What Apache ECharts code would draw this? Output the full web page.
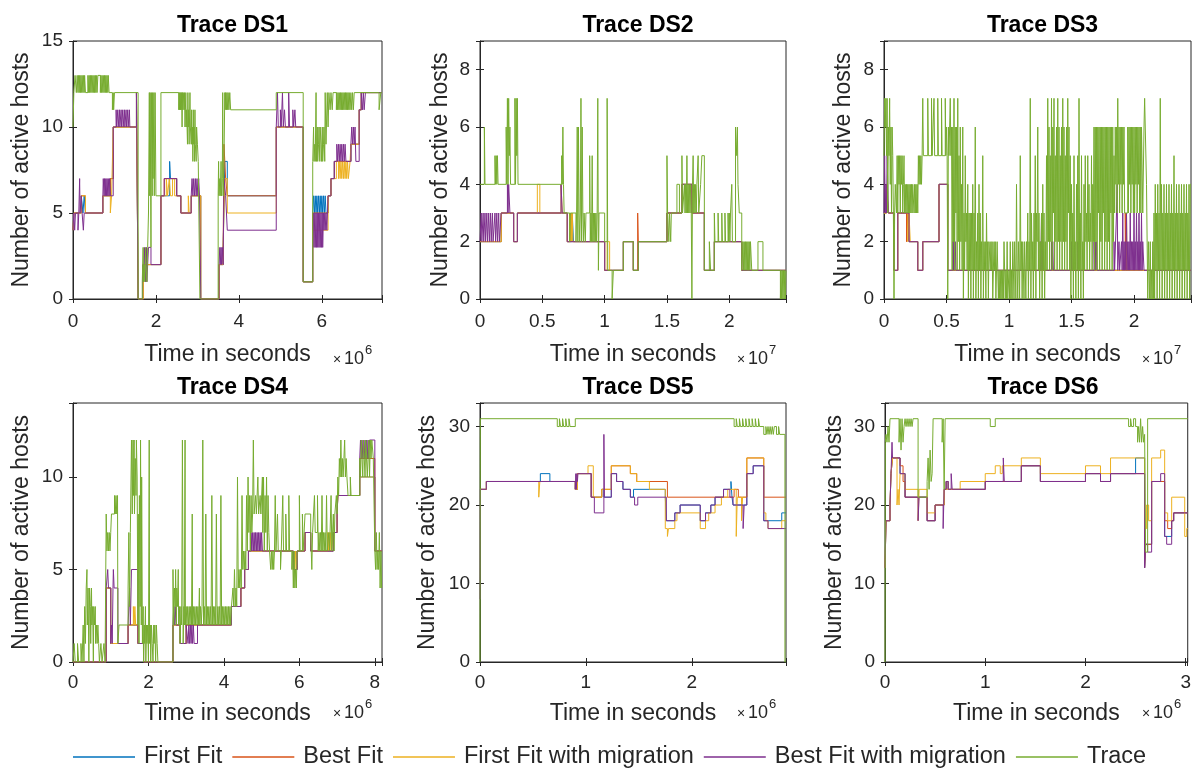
<!DOCTYPE html>
<html>
<head>
<meta charset="utf-8">
<title>Active hosts per trace</title>
<script src="https://cdn.jsdelivr.net/npm/echarts@6/dist/echarts.min.js"></script>
<style>
  html, body { margin: 0; padding: 0; background: #fff; }
  #chart { width: 1194px; height: 768px; }
</style>
</head>
<body>
<div id="chart"></div>
<script>
// legend / series
const seriesNames = ['First Fit', 'Best Fit', 'First Fit with migration', 'Best Fit with migration', 'Trace'];
const seriesColors = ['#0072BD', '#D95319', '#EDB120', '#7E2F8E', '#77AC30'];

// panels
const panelTitles = ['Trace DS1', 'Trace DS2', 'Trace DS3', 'Trace DS4', 'Trace DS5', 'Trace DS6'];
const xMaxes = [7.45, 2.455, 2.456, 8.19, 2.89, 3.02];
const xIntervals = [2, 0.5, 0.5, 2, 1, 1];
const xExponents = ['6', '7', '7', '6', '6', '6'];
const yMaxes = [15, 9, 9, 14, 33, 33];
const yIntervals = [5, 2, 2, 5, 10, 10];

// ---- DS1 (x in 1e6 s)
const ds1FirstFit = [[0,4],[0.02,5],[0.2,6],[0.24,5],[0.27,6],[0.3,5],[0.72,6],[0.9,7],[0.97,10],[1.53,12],[1.57,0],[1.7,2],[1.88,2],[2.12,6],[2.33,8],[2.35,7],[2.5,6],[2.6,5],[2.85,6],[3.08,0],[3.52,2],[3.62,3],[3.66,8],[3.72,6],[4.9,10],[5.55,1],[5.78,5],[5.8,6],[5.82,5],[5.84,6],[5.86,5],[5.88,6],[5.9,5],[5.92,6],[5.94,5],[5.96,6],[5.98,5],[6.0,6],[6.02,5],[6.04,6],[6.06,5],[6.08,6],[6.1,5],[6.15,6],[6.22,7],[6.3,8],[6.7,9],[6.9,11],[6.95,12],[7.45,12]];
const ds1BestFit = [[0,4],[0.02,5],[0.2,6],[0.3,5],[0.72,6],[0.9,7],[0.97,10],[1.53,12],[1.57,0],[1.7,2],[1.88,2],[2.12,6],[2.2,7],[2.5,6],[2.6,5],[2.85,6],[3.08,0],[3.52,2],[3.62,3],[3.64,9],[3.68,7],[3.72,6],[4.9,10],[5.55,1],[5.78,5],[6.15,6],[6.22,7],[6.3,8],[6.7,9],[6.9,11],[6.95,12],[7.45,12]];
const ds1FirstFitMig = [[0,4],[0.02,5],[0.2,6],[0.3,5],[0.72,6],[0.9,5],[0.93,6],[0.97,10],[1.53,12],[1.57,0],[1.7,2],[1.88,2],[2.12,6],[2.25,7],[2.28,6],[2.32,7],[2.35,6],[2.4,7],[2.45,6],[2.6,5],[2.78,6],[2.8,5],[2.85,6],[3.08,0],[3.52,2],[3.62,3],[3.66,7],[3.72,5],[4.9,10],[5.55,1],[5.78,4],[6.15,6],[6.22,7],[6.35,8],[6.4,7],[6.42,8],[6.44,7],[6.46,8],[6.48,7],[6.5,8],[6.52,7],[6.54,8],[6.56,7],[6.58,8],[6.6,7],[6.62,8],[6.64,7],[6.68,8],[6.7,9],[6.9,11],[6.95,12],[7.45,12]];
const ds1BestFitMig = [[0,4],[0.02,5],[0.04,4],[0.06,5],[0.1,5],[0.12,4],[0.14,5],[0.16,7],[0.17,5],[0.2,6],[0.22,5],[0.25,4],[0.27,5],[0.72,6],[0.73,7],[0.75,6],[0.76,7],[0.78,6],[0.79,7],[0.81,6],[0.82,7],[0.84,6],[0.85,7],[0.87,6],[0.88,7],[0.9,6],[0.97,10],[1.04,11],[1.05,10],[1.08,11],[1.09,10],[1.12,11],[1.13,10],[1.16,11],[1.17,10],[1.2,11],[1.21,10],[1.24,11],[1.25,10],[1.28,11],[1.29,10],[1.32,11],[1.33,10],[1.36,11],[1.37,10],[1.53,12],[1.57,0],[1.68,2],[1.7,1],[1.72,3],[1.73,2],[1.75,1],[1.77,3],[1.78,1],[1.8,2],[1.82,3],[1.88,2],[2.12,6],[2.2,7],[2.5,6],[2.6,5],[2.85,6],[2.87,7],[2.89,6],[2.91,7],[2.93,6],[2.95,7],[2.97,6],[2.99,7],[3.01,6],[3.03,7],[3.05,6],[3.08,0],[3.52,2],[3.54,3],[3.55,2],[3.57,3],[3.58,2],[3.6,3],[3.62,2],[3.64,7],[3.68,6],[3.72,4],[4.9,10],[4.93,12],[4.95,10],[5.0,11],[5.02,10],[5.05,12],[5.07,10],[5.1,11],[5.12,10],[5.2,12],[5.22,10],[5.3,11],[5.32,10],[5.35,11],[5.37,10],[5.55,1],[5.78,3],[5.8,5],[5.81,3],[5.83,5],[5.84,3],[5.86,5],[5.87,3],[5.89,5],[5.9,3],[5.92,5],[5.93,3],[5.95,5],[5.96,3],[5.98,5],[5.99,3],[6.01,5],[6.02,3],[6.04,5],[6.05,4],[6.07,5],[6.08,4],[6.1,5],[6.12,4],[6.15,6],[6.22,7],[6.3,8],[6.36,9],[6.38,8],[6.4,9],[6.42,8],[6.44,9],[6.46,8],[6.48,9],[6.5,8],[6.52,9],[6.54,8],[6.56,9],[6.58,8],[6.7,9],[6.72,10],[6.74,9],[6.76,10],[6.78,9],[6.8,10],[6.82,8],[6.9,11],[6.95,12],[6.98,11],[7.0,12],[7.02,11],[7.05,12],[7.45,12]];
const ds1Trace = [[0,10],[0.02,12],[0.05,13],[0.08,12],[0.1,13],[0.12,12],[0.13,13],[0.15,12],[0.16,13],[0.18,12],[0.19,13],[0.21,12],[0.22,13],[0.24,12],[0.25,13],[0.27,12],[0.28,13],[0.3,12],[0.36,13],[0.37,12],[0.39,13],[0.4,12],[0.42,13],[0.43,12],[0.45,13],[0.46,12],[0.48,13],[0.49,12],[0.51,13],[0.52,12],[0.54,13],[0.55,12],[0.57,13],[0.58,12],[0.6,13],[0.66,12],[0.67,13],[0.69,12],[0.7,13],[0.72,12],[0.73,13],[0.75,12],[0.76,13],[0.78,12],[0.79,13],[0.81,12],[0.82,13],[0.84,12],[0.85,13],[0.87,12],[0.95,11],[0.97,12],[0.98,11],[1.0,12],[1.57,0],[1.67,1],[1.69,3],[1.7,1],[1.72,2],[1.73,1],[1.75,3],[1.76,2],[1.78,1],[1.8,3],[1.82,5],[1.84,12],[1.85,6],[1.86,12],[1.88,3],[1.89,12],[1.91,6],[1.92,12],[1.93,7],[1.95,12],[1.96,6],[1.98,12],[2.0,6],[2.12,12],[2.55,11],[2.56,12],[2.57,11],[2.58,12],[2.59,11],[2.6,12],[2.61,11],[2.62,12],[2.63,10],[2.64,12],[2.65,11],[2.66,12],[2.68,11],[2.69,12],[2.7,10],[2.71,11],[2.72,12],[2.73,10],[2.74,11],[2.76,9],[2.77,12],[2.78,10],[2.79,11],[2.8,9],[2.82,12],[2.83,10],[2.85,9],[2.86,11],[2.87,9],[2.88,10],[2.89,8],[2.9,11],[2.91,9],[2.92,10],[2.93,8],[2.94,11],[2.95,9],[2.97,8],[2.98,10],[3.0,9],[3.02,8],[3.06,0],[3.5,6],[3.51,8],[3.52,6],[3.54,7],[3.55,6],[3.57,8],[3.58,6],[3.6,7],[3.61,12],[3.62,6],[3.64,8],[3.66,12],[3.67,11],[3.68,12],[3.7,11],[3.71,12],[3.73,11],[3.74,12],[3.76,11],[3.78,12],[3.8,11],[4.9,12],[5.55,1],[5.78,8],[5.8,10],[5.81,8],[5.83,9],[5.84,8],[5.86,12],[5.87,8],[5.89,10],[5.9,8],[5.92,9],[5.93,10],[5.95,8],[5.96,10],[5.98,9],[5.99,8],[6.01,10],[6.02,8],[6.04,9],[6.05,10],[6.07,8],[6.08,12],[6.1,9],[6.11,10],[6.13,12],[6.15,10],[6.17,12],[6.2,11],[6.22,12],[6.25,11],[6.27,12],[6.35,11],[6.36,12],[6.38,11],[6.39,12],[6.41,11],[6.42,12],[6.44,11],[6.45,12],[6.47,11],[6.48,12],[6.5,11],[6.51,12],[6.53,11],[6.54,12],[6.56,11],[6.57,12],[6.59,11],[6.6,12],[6.62,11],[6.63,12],[6.65,11],[6.66,12],[6.68,11],[6.7,12],[6.72,11],[6.74,12],[6.76,11],[6.78,12],[7.38,11],[7.42,12],[7.45,12]];

// ---- DS2 (x in 1e7 s)
const ds2FirstFit = [[0,2],[0.17,3],[0.27,2],[0.3,3],[0.7,2],[0.74,3],[0.75,2],[1.0,1],[1.15,2],[1.23,1],[1.27,2],[1.5,3],[1.62,4],[1.7,3],[1.8,1],[1.88,2],[2.1,1],[2.455,1]];
const ds2BestFit = [[0,2],[0.17,3],[0.27,2],[0.3,3],[0.7,2],[0.73,3],[0.735,2],[1.0,1],[1.15,2],[1.23,1],[1.265,3],[1.27,2],[1.5,3],[1.62,4],[1.7,3],[1.8,1],[1.88,2],[2.1,1],[2.455,1]];
const ds2FirstFitMig = [[0,2],[0.17,3],[0.27,2],[0.3,3],[0.46,4],[0.48,3],[0.65,4],[0.66,3],[0.7,2],[0.72,3],[0.725,2],[0.73,3],[0.735,2],[0.74,3],[0.745,2],[1.0,1],[1.02,2],[1.04,1],[1.15,2],[1.23,1],[1.27,2],[1.5,3],[1.62,4],[1.7,3],[1.8,1],[1.88,2],[2.1,1],[2.455,1]];
const ds2BestFitMig = [[0,2],[0.01,3],[0.015,2],[0.025,3],[0.03,2],[0.04,3],[0.045,2],[0.055,3],[0.06,2],[0.07,3],[0.075,2],[0.085,3],[0.09,2],[0.1,3],[0.105,2],[0.12,3],[0.125,2],[0.135,3],[0.14,2],[0.15,3],[0.155,2],[0.17,3],[0.22,4],[0.225,3],[0.23,4],[0.24,3],[0.27,2],[0.3,3],[0.65,4],[0.66,3],[0.7,2],[1.0,1],[1.15,2],[1.23,1],[1.27,2],[1.5,3],[1.62,4],[1.7,3],[1.8,1],[1.88,2],[2.1,1],[2.455,1]];
const ds2Trace = [[0,4],[0.035,6],[0.04,4],[0.12,5],[0.125,4],[0.13,5],[0.135,4],[0.14,5],[0.145,4],[0.21,6],[0.215,4],[0.22,7],[0.225,4],[0.23,7],[0.235,5],[0.24,6],[0.245,4],[0.28,7],[0.285,4],[0.29,7],[0.295,5],[0.3,7],[0.305,4],[0.655,5],[0.66,4],[0.665,6],[0.67,4],[0.675,3],[0.72,2],[0.725,3],[0.77,2],[0.775,3],[0.78,6],[0.785,2],[0.79,6],[0.795,3],[0.8,2],[0.805,3],[0.81,7],[0.815,2],[0.82,6],[0.825,3],[0.83,2],[0.835,3],[0.845,2],[0.85,3],[0.88,5],[0.885,2],[0.89,3],[0.895,2],[0.9,5],[0.905,2],[0.91,3],[0.915,2],[0.92,3],[0.925,2],[0.93,3],[0.935,2],[0.94,3],[0.945,7],[0.95,1],[0.955,3],[1.0,2],[1.02,7],[1.025,1],[1.06,0],[1.07,1],[1.15,2],[1.23,1],[1.27,2],[1.5,5],[1.505,3],[1.515,2],[1.52,3],[1.53,2],[1.535,3],[1.58,4],[1.6,3],[1.62,5],[1.625,3],[1.64,4],[1.645,3],[1.65,4],[1.655,3],[1.66,5],[1.665,3],[1.67,4],[1.675,3],[1.68,4],[1.685,3],[1.69,4],[1.695,3],[1.7,0],[1.705,4],[1.71,5],[1.715,3],[1.72,4],[1.725,3],[1.73,4],[1.735,3],[1.74,4],[1.75,5],[1.755,3],[1.77,4],[1.78,5],[1.8,1],[1.84,2],[1.85,1],[1.88,3],[1.885,2],[1.91,3],[1.915,2],[1.94,3],[1.945,2],[1.965,3],[1.97,2],[1.99,3],[1.995,2],[2.0,3],[2.005,2],[2.01,3],[2.02,4],[2.025,2],[2.05,6],[2.06,5],[2.065,6],[2.07,4],[2.08,3],[2.1,1],[2.11,2],[2.115,1],[2.12,2],[2.125,1],[2.13,2],[2.135,1],[2.14,2],[2.145,1],[2.15,2],[2.155,1],[2.16,2],[2.165,1],[2.17,2],[2.18,1],[2.23,2],[2.27,1],[2.41,0],[2.415,1],[2.42,0],[2.425,1],[2.43,0],[2.435,1],[2.44,0],[2.445,1],[2.45,0],[2.455,1]];

// ---- DS3 (x in 1e7 s)
const ds3FirstFit = [[0,3],[0.02,4],[0.035,3],[0.08,1],[0.11,3],[0.2,2],[0.27,1],[0.31,2],[0.44,4],[0.51,1],[2.456,1]];
const ds3BestFit = [[0,3],[0.02,4],[0.035,3],[0.08,1],[0.11,3],[0.18,2],[0.19,3],[0.2,2],[0.27,1],[0.31,2],[0.44,4],[0.51,1],[1.93,3],[1.935,1],[2.456,1]];
const ds3FirstFitMig = [[0,3],[0.02,4],[0.035,3],[0.08,1],[0.11,3],[0.19,2],[0.2,3],[0.21,2],[0.27,1],[0.31,2],[0.44,4],[0.51,1],[1.94,3],[1.945,1],[2.456,1]];
const ds3BestFitMig = [[0,3],[0.005,5],[0.01,3],[0.015,4],[0.02,3],[0.025,5],[0.03,4],[0.035,3],[0.08,1],[0.11,3],[0.2,2],[0.27,1],[0.31,2],[0.44,4],[0.51,1],[0.55,2],[0.555,1],[0.56,3],[0.565,1],[0.57,2],[0.575,1],[1.25,2],[1.255,1],[1.26,3],[1.265,1],[1.27,2],[1.275,1],[1.34,2],[1.345,1],[1.35,2],[1.355,1],[1.5,2],[1.505,1],[1.55,2],[1.555,1],[1.68,2],[1.685,1],[1.69,2],[1.695,1],[1.7,2],[1.705,1],[1.84,2],[1.845,1],[1.86,3],[1.865,4],[1.87,1],[1.88,2],[1.885,1],[1.9,2],[1.905,1],[1.91,3],[1.915,1],[1.92,2],[1.925,1],[1.93,2],[1.935,1],[1.94,3],[1.945,1],[1.95,2],[1.955,1],[1.96,2],[1.965,1],[1.97,3],[1.975,1],[1.98,2],[1.985,1],[1.99,2],[1.995,1],[2.0,3],[2.005,1],[2.01,2],[2.015,1],[2.02,3],[2.025,1],[2.03,2],[2.035,1],[2.04,3],[2.045,1],[2.05,2],[2.055,1],[2.06,3],[2.065,1],[2.07,2],[2.08,1],[2.456,1]];
const ds3Trace = [[0,5],[0.005,7],[0.01,6],[0.015,7],[0.02,5],[0.025,7],[0.03,3],[0.035,6],[0.04,5],[0.045,7],[0.05,4],[0.055,6],[0.06,3],[0.065,6],[0.07,5],[0.075,3],[0.08,0],[0.085,3],[0.09,4],[0.1,3],[0.105,5],[0.11,3],[0.115,5],[0.12,4],[0.125,5],[0.13,3],[0.135,5],[0.14,4],[0.145,5],[0.15,3],[0.155,4],[0.16,5],[0.165,3],[0.17,4],[0.175,3],[0.18,4],[0.185,3],[0.19,4],[0.195,3],[0.2,4],[0.205,3],[0.21,4],[0.215,3],[0.22,4],[0.225,3],[0.23,4],[0.24,3],[0.245,4],[0.25,3],[0.255,4],[0.26,3],[0.265,4],[0.27,3],[0.275,5],[0.28,4],[0.285,5],[0.29,4],[0.295,5],[0.3,4],[0.305,5],[0.31,7],[0.315,5],[0.35,7],[0.355,5],[0.38,7],[0.385,5],[0.4,7],[0.405,5],[0.43,7],[0.435,5],[0.46,7],[0.465,5],[0.49,7],[0.495,5],[0.5,6],[0.505,5],[0.51,0],[0.515,6],[0.52,5],[0.525,6],[0.53,7],[0.535,5],[0.54,6],[0.545,1],[0.55,6],[0.555,2],[0.56,7],[0.565,1],[0.57,6],[0.575,3],[0.58,6],[0.585,1],[0.59,7],[0.595,2],[0.6,5],[0.605,1],[0.61,6],[0.615,2],[0.62,4],[0.625,1],[0.63,6],[0.635,0],[0.64,3],[0.645,1],[0.65,5],[0.655,2],[0.66,3],[0.665,1],[0.67,4],[0.675,0],[0.68,3],[0.685,1],[0.69,3],[0.695,0],[0.7,3],[0.705,1],[0.71,4],[0.715,0],[0.72,3],[0.725,1],[0.73,6],[0.735,0],[0.74,2],[0.745,1],[0.75,3],[0.755,0],[0.76,4],[0.765,1],[0.77,3],[0.775,0],[0.78,2],[0.785,1],[0.79,5],[0.795,0],[0.8,2],[0.805,1],[0.81,2],[0.815,0],[0.82,3],[0.825,1],[0.83,2],[0.835,0],[0.84,2],[0.85,1],[0.855,2],[0.86,1],[0.865,2],[0.87,0],[0.875,1],[0.88,2],[0.885,1],[0.89,2],[0.895,0],[0.9,1],[0.905,2],[0.91,1],[0.915,0],[0.92,1],[0.925,0],[0.93,1],[0.935,0],[0.94,1],[0.945,0],[0.95,1],[0.955,0],[0.96,2],[0.965,1],[0.97,0],[0.975,1],[0.98,0],[0.985,2],[0.99,0],[1.0,1],[1.005,0],[1.01,2],[1.015,0],[1.02,1],[1.025,0],[1.03,2],[1.035,1],[1.04,0],[1.045,2],[1.05,1],[1.055,0],[1.06,4],[1.065,1],[1.07,0],[1.075,2],[1.08,1],[1.085,0],[1.09,5],[1.095,1],[1.1,2],[1.105,0],[1.11,2],[1.115,1],[1.12,0],[1.125,2],[1.13,1],[1.135,0],[1.14,2],[1.145,1],[1.15,3],[1.155,0],[1.16,2],[1.165,1],[1.17,7],[1.175,0],[1.18,3],[1.185,1],[1.19,2],[1.195,0],[1.2,3],[1.205,1],[1.21,5],[1.215,0],[1.22,3],[1.225,2],[1.23,6],[1.235,1],[1.24,3],[1.245,0],[1.25,2],[1.255,1],[1.26,3],[1.265,0],[1.27,4],[1.275,1],[1.28,3],[1.285,0],[1.29,2],[1.295,1],[1.3,5],[1.305,1],[1.31,7],[1.315,2],[1.32,6],[1.325,1],[1.33,5],[1.335,2],[1.34,7],[1.345,1],[1.35,6],[1.355,3],[1.36,7],[1.365,1],[1.37,5],[1.375,2],[1.38,6],[1.385,1],[1.39,7],[1.395,2],[1.4,6],[1.405,1],[1.41,5],[1.415,2],[1.42,6],[1.425,1],[1.43,7],[1.435,2],[1.44,6],[1.445,1],[1.45,5],[1.455,2],[1.46,6],[1.465,1],[1.47,7],[1.475,3],[1.48,6],[1.485,1],[1.49,5],[1.495,0],[1.5,4],[1.505,1],[1.51,3],[1.515,0],[1.52,5],[1.525,1],[1.53,2],[1.535,0],[1.54,4],[1.545,1],[1.55,5],[1.555,0],[1.56,7],[1.565,1],[1.57,3],[1.575,0],[1.58,5],[1.585,1],[1.59,2],[1.595,0],[1.6,4],[1.605,1],[1.61,5],[1.615,2],[1.62,3],[1.625,1],[1.63,5],[1.635,2],[1.64,4],[1.645,1],[1.65,3],[1.655,2],[1.66,5],[1.665,1],[1.67,4],[1.675,2],[1.68,6],[1.685,1],[1.69,6],[1.695,2],[1.7,6],[1.705,1],[1.71,6],[1.715,3],[1.72,6],[1.725,1],[1.73,6],[1.735,2],[1.74,6],[1.745,1],[1.75,6],[1.755,3],[1.76,6],[1.765,1],[1.77,6],[1.775,2],[1.78,6],[1.785,1],[1.79,6],[1.795,2],[1.8,6],[1.805,1],[1.81,6],[1.815,3],[1.82,6],[1.825,1],[1.83,6],[1.835,2],[1.84,5],[1.845,3],[1.85,6],[1.855,4],[1.86,6],[1.865,3],[1.87,7],[1.875,4],[1.88,6],[1.885,3],[1.89,6],[1.895,4],[1.9,6],[1.905,3],[1.91,6],[1.915,4],[1.92,6],[1.925,3],[1.95,6],[1.955,3],[1.96,6],[1.965,4],[1.97,6],[1.975,3],[1.98,6],[1.985,4],[1.99,6],[1.995,3],[2.0,6],[2.005,3],[2.01,6],[2.015,4],[2.02,6],[2.025,3],[2.03,6],[2.035,4],[2.04,6],[2.045,3],[2.05,6],[2.055,3],[2.06,6],[2.07,3],[2.08,6],[2.085,7],[2.09,6],[2.1,4],[2.11,0],[2.115,2],[2.12,1],[2.125,0],[2.13,2],[2.135,0],[2.14,1],[2.145,0],[2.15,2],[2.155,0],[2.16,3],[2.165,0],[2.17,4],[2.175,1],[2.18,3],[2.185,0],[2.19,4],[2.195,1],[2.2,3],[2.205,0],[2.21,7],[2.215,1],[2.22,4],[2.225,0],[2.23,3],[2.235,1],[2.24,4],[2.245,0],[2.25,3],[2.255,1],[2.26,4],[2.265,0],[2.27,3],[2.275,1],[2.28,4],[2.285,0],[2.29,3],[2.295,1],[2.3,4],[2.305,0],[2.31,3],[2.315,1],[2.32,5],[2.325,0],[2.33,3],[2.335,1],[2.34,4],[2.345,0],[2.35,3],[2.355,1],[2.36,4],[2.365,0],[2.37,3],[2.375,1],[2.38,4],[2.385,0],[2.39,3],[2.395,1],[2.4,4],[2.405,0],[2.41,3],[2.415,1],[2.42,4],[2.425,0],[2.43,3],[2.435,1],[2.44,4],[2.445,0],[2.45,4],[2.456,4]];

// ---- DS4 (x in 1e6 s)
const ds4FirstFit = [[0,0],[0.88,4],[1.0,1],[1.46,2],[1.72,1],[1.87,0],[2.65,2],[2.84,1],[3.0,2],[4.2,3],[4.45,4],[4.55,5],[4.65,6],[5.84,5],[5.94,6],[6.15,7],[6.3,6],[6.9,7],[7.0,8],[7.02,9],[7.6,10],[8.0,6],[8.19,6]];
const ds4BestFit = [[0,0],[0.88,4],[1.0,1],[1.46,2],[1.72,1],[1.87,0],[2.65,2],[2.84,1],[3.0,2],[4.2,3],[4.45,4],[4.55,5],[4.65,6],[5.84,5],[5.94,6],[6.15,7],[6.3,6],[6.9,7],[7.0,8],[7.02,9],[7.6,11],[8.0,6],[8.19,6]];
const ds4FirstFitMig = [[0,0],[0.88,4],[1.0,1],[1.46,2],[1.6,3],[1.62,2],[1.64,3],[1.66,2],[1.72,1],[1.87,0],[2.65,2],[2.84,1],[3.0,2],[4.2,3],[4.45,4],[4.55,5],[4.65,6],[5.84,5],[5.86,6],[5.88,5],[5.9,6],[5.92,5],[5.94,6],[6.15,7],[6.3,6],[6.75,7],[6.77,6],[6.79,7],[6.81,6],[6.83,7],[6.85,6],[6.9,7],[7.0,8],[7.02,9],[7.6,10],[8.0,6],[8.19,6]];
const ds4BestFitMig = [[0,0],[0.88,4],[0.92,5],[0.94,4],[1.0,1],[1.02,2],[1.04,1],[1.06,4],[1.07,5],[1.09,4],[1.19,1],[1.46,2],[1.5,4],[1.52,2],[1.55,5],[1.72,1],[1.87,0],[2.65,2],[2.67,3],[2.69,2],[2.71,3],[2.73,2],[2.84,1],[3.0,2],[3.05,1],[3.07,2],[3.09,1],[3.11,2],[3.13,1],[3.15,2],[3.17,1],[3.19,2],[3.21,1],[3.3,2],[4.2,3],[4.45,4],[4.55,5],[4.65,6],[4.72,7],[4.74,6],[4.76,7],[4.78,6],[4.8,7],[4.82,6],[4.84,7],[4.86,6],[4.88,7],[4.9,6],[4.92,7],[4.94,6],[4.96,7],[4.98,6],[5.0,7],[5.02,6],[5.84,5],[5.94,6],[6.15,7],[6.3,6],[6.9,7],[7.0,8],[7.02,9],[7.6,11],[7.62,12],[7.64,11],[7.66,12],[7.68,11],[7.7,12],[7.72,11],[7.74,12],[7.76,11],[7.78,12],[7.8,11],[7.82,12],[7.84,11],[7.86,12],[8.0,6],[8.19,6]];
const ds4Trace = [[0,0],[0.03,1],[0.06,0],[0.12,1],[0.15,0],[0.21,1],[0.24,0],[0.27,2],[0.29,0],[0.31,3],[0.33,1],[0.35,4],[0.37,5],[0.38,2],[0.4,4],[0.42,0],[0.44,4],[0.46,3],[0.47,1],[0.49,4],[0.5,2],[0.52,3],[0.54,0],[0.55,3],[0.57,2],[0.59,3],[0.6,1],[0.62,2],[0.64,1],[0.66,2],[0.68,1],[0.7,0],[0.74,1],[0.77,0],[0.82,1],[0.85,0],[0.88,8],[0.9,6],[0.92,7],[0.94,6],[0.96,7],[0.98,6],[1.0,7],[1.02,8],[1.1,9],[1.12,8],[1.14,9],[1.16,8],[1.18,9],[1.19,1],[1.22,2],[1.46,4],[1.48,7],[1.5,3],[1.52,7],[1.55,12],[1.57,8],[1.59,12],[1.6,9],[1.62,12],[1.63,8],[1.65,11],[1.67,9],[1.68,12],[1.7,10],[1.72,2],[1.73,8],[1.75,1],[1.76,9],[1.78,3],[1.79,12],[1.81,2],[1.82,10],[1.84,1],[1.86,3],[1.87,0],[1.89,2],[1.9,1],[1.92,3],[1.93,0],[1.95,2],[1.96,1],[1.98,2],[2.0,0],[2.02,12],[2.03,1],[2.05,2],[2.06,0],[2.08,2],[2.1,1],[2.12,0],[2.14,2],[2.15,1],[2.17,2],[2.19,0],[2.21,2],[2.23,1],[2.25,0],[2.65,5],[2.67,2],[2.69,4],[2.71,3],[2.72,5],[2.74,2],[2.75,4],[2.77,3],[2.79,5],[2.8,2],[2.82,3],[2.84,1],[2.86,3],[2.88,2],[2.9,12],[2.92,1],[2.94,3],[2.95,2],[2.97,12],[2.98,2],[3.0,3],[3.02,2],[3.04,3],[3.06,2],[3.08,3],[3.1,2],[3.12,3],[3.14,2],[3.16,8],[3.17,2],[3.19,3],[3.21,2],[3.23,3],[3.25,2],[3.27,3],[3.29,2],[3.31,3],[3.33,2],[3.35,4],[3.36,2],[3.38,3],[3.4,2],[3.42,3],[3.44,12],[3.46,2],[3.48,3],[3.5,2],[3.52,8],[3.54,2],[3.56,3],[3.58,2],[3.6,3],[3.62,2],[3.64,3],[3.66,2],[3.68,9],[3.7,2],[3.72,3],[3.74,2],[3.76,3],[3.78,2],[3.8,8],[3.82,2],[3.84,3],[3.86,2],[3.88,3],[3.9,2],[3.92,9],[3.94,2],[3.96,3],[3.98,2],[4.0,3],[4.02,2],[4.04,3],[4.06,2],[4.08,3],[4.1,2],[4.12,3],[4.14,2],[4.16,3],[4.18,2],[4.2,3],[4.24,4],[4.26,3],[4.28,5],[4.3,3],[4.32,4],[4.34,3],[4.36,10],[4.38,4],[4.4,5],[4.42,4],[4.44,5],[4.46,4],[4.48,9],[4.5,5],[4.52,6],[4.54,5],[4.56,6],[4.58,5],[4.6,9],[4.62,6],[4.64,10],[4.66,7],[4.68,9],[4.7,6],[4.72,9],[4.74,7],[4.76,8],[4.78,12],[4.8,8],[4.84,9],[4.86,8],[4.9,10],[4.92,8],[4.96,9],[4.98,8],[5.02,10],[5.03,7],[5.05,10],[5.07,6],[5.09,9],[5.11,7],[5.13,10],[5.15,6],[5.17,9],[5.19,7],[5.21,6],[5.24,5],[5.26,6],[5.28,5],[5.3,6],[5.32,5],[5.34,6],[5.36,9],[5.38,6],[5.42,8],[5.44,6],[5.5,5],[5.52,6],[5.56,9],[5.58,6],[5.64,8],[5.66,6],[5.72,9],[5.74,6],[5.8,5],[5.82,6],[5.84,4],[5.86,6],[5.88,4],[5.9,5],[5.92,4],[5.94,6],[6.0,9],[6.02,6],[6.08,8],[6.1,6],[6.15,8],[6.3,7],[6.33,5],[6.35,7],[6.4,9],[6.42,7],[6.48,9],[6.5,6],[6.52,7],[6.54,6],[6.56,7],[6.58,6],[6.6,9],[6.62,6],[6.64,7],[6.66,6],[6.68,7],[6.7,6],[6.72,9],[6.74,6],[6.78,7],[6.8,6],[6.84,9],[6.86,6],[6.9,8],[6.92,6],[6.94,8],[6.98,9],[7.0,8],[7.02,10],[7.04,9],[7.06,11],[7.08,10],[7.1,12],[7.12,10],[7.14,11],[7.16,10],[7.18,11],[7.2,12],[7.22,10],[7.24,11],[7.26,10],[7.29,9],[7.35,10],[7.37,9],[7.6,11],[7.62,10],[7.64,12],[7.66,11],[7.68,10],[7.7,12],[7.72,11],[7.74,10],[7.76,12],[7.78,11],[7.8,10],[7.82,11],[7.84,12],[7.86,10],[7.88,12],[7.9,11],[7.92,12],[7.96,11],[8.0,6],[8.02,5],[8.04,7],[8.06,5],[8.08,6],[8.1,5],[8.12,7],[8.14,4],[8.16,6],[8.18,4],[8.19,4]];

// ---- DS5 (x in 1e6 s)
const ds5FirstFit = [[0,22],[0.06,23],[0.57,24],[0.66,23],[0.9,22],[0.92,24],[1.05,21],[1.15,22],[1.17,21],[1.24,24],[1.29,23],[1.35,22],[1.42,21],[1.45,22],[1.75,21],[1.76,18],[1.84,19],[1.89,20],[2.08,18],[2.13,19],[2.18,20],[2.22,21],[2.3,22],[2.37,23],[2.38,21],[2.39,20],[2.52,24],[2.58,25],[2.68,18],[2.85,19],[2.89,19]];
const ds5BestFit = [[0,22],[0.06,23],[0.9,22],[0.92,24],[1.05,21],[1.15,22],[1.24,25],[1.42,24],[1.48,23],[1.77,21],[2.4,22],[2.44,21],[2.52,26],[2.68,21],[2.89,21]];
const ds5FirstFitMig = [[0,22],[0.06,23],[0.555,21],[0.565,23],[0.9,22],[0.92,24],[1.02,25],[1.07,21],[1.15,22],[1.24,25],[1.42,24],[1.48,23],[1.6,22],[1.75,17],[1.77,16],[1.78,17],[1.84,18],[1.86,19],[2.08,17],[2.13,18],[2.16,19],[2.22,20],[2.28,21],[2.34,22],[2.42,16],[2.43,21],[2.47,18],[2.48,21],[2.52,26],[2.68,19],[2.7,18],[2.72,17],[2.85,18],[2.89,18]];
const ds5BestFitMig = [[0,8],[0.003,22],[0.06,23],[0.9,22],[0.905,24],[0.91,22],[0.915,24],[0.92,23],[0.925,24],[1.05,21],[1.08,19],[1.17,29],[1.175,21],[1.24,24],[1.29,23],[1.35,22],[1.42,21],[1.46,20],[1.49,21],[1.76,18],[1.84,19],[1.89,20],[2.08,18],[2.13,19],[2.18,20],[2.22,21],[2.3,22],[2.36,21],[2.39,20],[2.485,17],[2.495,20],[2.52,24],[2.58,25],[2.68,18],[2.72,17],[2.89,17]];
const ds5Trace = [[0,0],[0.003,31],[0.73,30],[0.75,31],[0.76,30],[0.78,31],[0.79,30],[0.81,31],[0.82,30],[0.84,31],[0.85,30],[0.9,31],[2.4,30],[2.42,31],[2.43,30],[2.45,31],[2.46,30],[2.48,31],[2.49,30],[2.51,31],[2.52,30],[2.54,31],[2.55,30],[2.57,31],[2.58,30],[2.6,31],[2.61,30],[2.63,31],[2.64,30],[2.68,29],[2.7,30],[2.71,29],[2.72,30],[2.73,29],[2.74,30],[2.75,29],[2.76,30],[2.77,29],[2.78,30],[2.8,29],[2.82,30],[2.83,29],[2.88,0],[2.89,0]];

// ---- DS6 (x in 1e6 s)
const ds6FirstFit = [[0,12],[0.01,18],[0.05,20],[0.06,24],[0.075,26],[0.15,24],[0.2,21],[0.42,18],[0.5,20],[0.59,22],[0.61,23],[0.63,22],[1.0,23],[1.36,25],[1.55,23],[2.0,24],[2.15,23],[2.25,24],[2.5,26],[2.59,12],[2.6,15],[2.66,23],[2.79,16],[2.86,18],[2.88,19],[3.02,19]];
const ds6BestFit = [[0,12],[0.01,18],[0.05,20],[0.06,24],[0.075,26],[0.15,25],[0.18,23],[0.2,21],[0.42,18],[0.5,20],[0.59,22],[0.61,23],[0.63,22],[1.0,23],[1.36,25],[1.55,23],[2.0,24],[2.15,23],[2.25,24],[2.59,12],[2.6,15],[2.66,23],[2.79,18],[2.82,17],[2.86,18],[2.88,19],[3.02,19]];
const ds6FirstFitMig = [[0,12],[0.01,18],[0.05,20],[0.06,24],[0.075,26],[0.12,20],[0.13,22],[0.14,20],[0.15,24],[0.2,22],[0.33,18],[0.34,22],[0.42,19],[0.5,20],[0.59,22],[0.75,23],[1.0,24],[1.1,25],[1.15,24],[1.17,25],[1.36,26],[1.55,24],[2.0,25],[2.15,24],[2.25,26],[2.59,17],[2.61,20],[2.63,18],[2.66,26],[2.75,27],[2.79,19],[2.82,18],[2.86,21],[2.99,16],[3.01,17],[3.02,17]];
const ds6BestFitMig = [[0,12],[0.01,18],[0.05,20],[0.06,24],[0.07,28],[0.075,26],[0.15,24],[0.2,21],[0.33,18],[0.34,21],[0.42,18],[0.5,20],[0.58,17],[0.59,22],[0.61,23],[0.63,22],[0.66,24],[0.67,22],[1.0,23],[1.18,26],[1.19,23],[1.36,25],[1.55,23],[2.0,24],[2.15,23],[2.25,24],[2.59,12],[2.6,15],[2.62,14],[2.66,23],[2.75,24],[2.79,16],[2.81,15],[2.86,18],[2.88,19],[3.02,19]];
const ds6Trace = [[0,0],[0.003,28],[0.01,29],[0.02,28],[0.03,30],[0.04,28],[0.05,31],[0.14,28],[0.15,31],[0.16,27],[0.17,31],[0.18,28],[0.19,30],[0.2,31],[0.21,30],[0.22,31],[0.23,30],[0.24,31],[0.25,30],[0.26,31],[0.27,30],[0.28,31],[0.33,21],[0.42,23],[0.43,26],[0.44,22],[0.45,27],[0.46,23],[0.47,24],[0.48,31],[0.57,28],[0.58,31],[0.59,22],[0.6,31],[1.05,30],[1.1,31],[2.43,30],[2.45,31],[2.46,30],[2.48,31],[2.5,30],[2.52,28],[2.53,30],[2.54,28],[2.55,31],[2.56,28],[2.57,30],[2.58,28],[2.59,29],[2.6,14],[2.62,31],[3.02,31]];

const panelSeries = [
  [ds1FirstFit, ds1BestFit, ds1FirstFitMig, ds1BestFitMig, ds1Trace],
  [ds2FirstFit, ds2BestFit, ds2FirstFitMig, ds2BestFitMig, ds2Trace],
  [ds3FirstFit, ds3BestFit, ds3FirstFitMig, ds3BestFitMig, ds3Trace],
  [ds4FirstFit, ds4BestFit, ds4FirstFitMig, ds4BestFitMig, ds4Trace],
  [ds5FirstFit, ds5BestFit, ds5FirstFitMig, ds5BestFitMig, ds5Trace],
  [ds6FirstFit, ds6BestFit, ds6FirstFitMig, ds6BestFitMig, ds6Trace]
];

// layout: [left, top, width, height] of each plot box
const boxes = [[73,41,309,258],[480,41,306,258],[884,41,307,258],[73,403,309,259],[480,403,306,259],[885,403,306,259]];
const yNameGaps = [40, 28, 29, 40, 41, 39];
const FONT = '"Liberation Sans", Arial, Helvetica, sans-serif';
const AX = '#262626';

function onStep(step) {
  return function (v) {
    return Math.abs(v / step - Math.round(v / step)) < 1e-6 ? String(+v.toFixed(2)) : '';
  };
}

const grids = [], xAxes = [], yAxes = [], titles = [], series = [], graphics = [];
const mirrorX = [], mirrorY = [];

boxes.forEach(function (b, i) {
  const bottomRow = i >= 3;
  grids.push({ left: b[0], top: b[1], width: b[2], height: b[3], show: true, borderColor: AX, borderWidth: 1 });
  titles.push({
    text: panelTitles[i], left: b[0] + b[2] / 2, top: bottomRow ? 371 : 9, textAlign: 'center',
    textStyle: { fontFamily: FONT, fontSize: 23, fontWeight: 'bold', color: '#000' }
  });
  xAxes.push({
    gridIndex: i, type: 'value', min: 0, max: xMaxes[i], interval: xIntervals[i],
    name: 'Time in seconds', nameLocation: 'middle', nameGap: bottomRow ? 40 : 44,
    nameTextStyle: { fontFamily: FONT, fontSize: 23, color: AX },
    axisLine: { show: true, lineStyle: { color: AX, width: 1 } },
    axisTick: { show: true, inside: true, length: 4, lineStyle: { color: AX } },
    axisLabel: { fontFamily: FONT, fontSize: 19, color: AX, margin: bottomRow ? 11 : 13, formatter: onStep(xIntervals[i]) },
    splitLine: { show: false }
  });
  mirrorX.push({
    gridIndex: i, type: 'value', position: 'top', min: 0, max: xMaxes[i], interval: xIntervals[i],
    axisLine: { show: false }, axisLabel: { show: false }, splitLine: { show: false },
    axisTick: { show: true, inside: true, length: 4, lineStyle: { color: AX } }
  });
  yAxes.push({
    gridIndex: i, type: 'value', min: 0, max: yMaxes[i], interval: yIntervals[i],
    name: 'Number of active hosts', nameLocation: 'middle', nameGap: yNameGaps[i],
    nameTextStyle: { fontFamily: FONT, fontSize: 23, color: AX },
    axisLine: { show: true, lineStyle: { color: AX, width: 1 } },
    axisTick: { show: true, inside: true, length: 4, lineStyle: { color: AX } },
    axisLabel: { fontFamily: FONT, fontSize: 19, color: AX, margin: 10, formatter: onStep(yIntervals[i]) },
    splitLine: { show: false }
  });
  mirrorY.push({
    gridIndex: i, type: 'value', position: 'right', min: 0, max: yMaxes[i], interval: yIntervals[i],
    axisLine: { show: false }, axisLabel: { show: false }, splitLine: { show: false },
    axisTick: { show: true, inside: true, length: 4, lineStyle: { color: AX } }
  });

  panelSeries[i].forEach(function (pts, k) {
    series.push({
      name: seriesNames[k], type: 'line', xAxisIndex: i, yAxisIndex: i,
      data: pts, step: 'end', symbol: 'none', showSymbol: false, silent: true,
      lineStyle: { width: 1, color: seriesColors[k] }, itemStyle: { color: seriesColors[k] }
    });
  });

  // x10^n exponent at the end of the x axis
  const right = b[0] + b[2];
  const base = bottomRow ? 704 : 350;
  graphics.push({ type: 'text', left: right - 49, top: base + 3, style: { text: '\u00d7', font: '14px ' + FONT, fill: AX } });
  graphics.push({ type: 'text', left: right - 38, top: base, style: { text: '10', font: '18px ' + FONT, fill: AX } });
  graphics.push({ type: 'text', left: right - 17, top: base - 6, style: { text: xExponents[i], font: '13px ' + FONT, fill: AX } });
});

const myChart = echarts.init(document.getElementById('chart'));
myChart.setOption({
  backgroundColor: '#fff',
  animation: false,
  title: titles,
  grid: grids,
  xAxis: xAxes.concat(mirrorX),
  yAxis: yAxes.concat(mirrorY),
  legend: {
    data: seriesNames, left: 68, top: 740, icon: 'rect', itemWidth: 62, itemHeight: 1.5, itemGap: 10,
    textStyle: { fontFamily: FONT, fontSize: 23.5, color: AX, padding: [0, 0, 0, 4] }
  },
  graphic: graphics,
  series: series
});
window.addEventListener('resize', function () {
  myChart.resize();
});
</script>
</body>
</html>
